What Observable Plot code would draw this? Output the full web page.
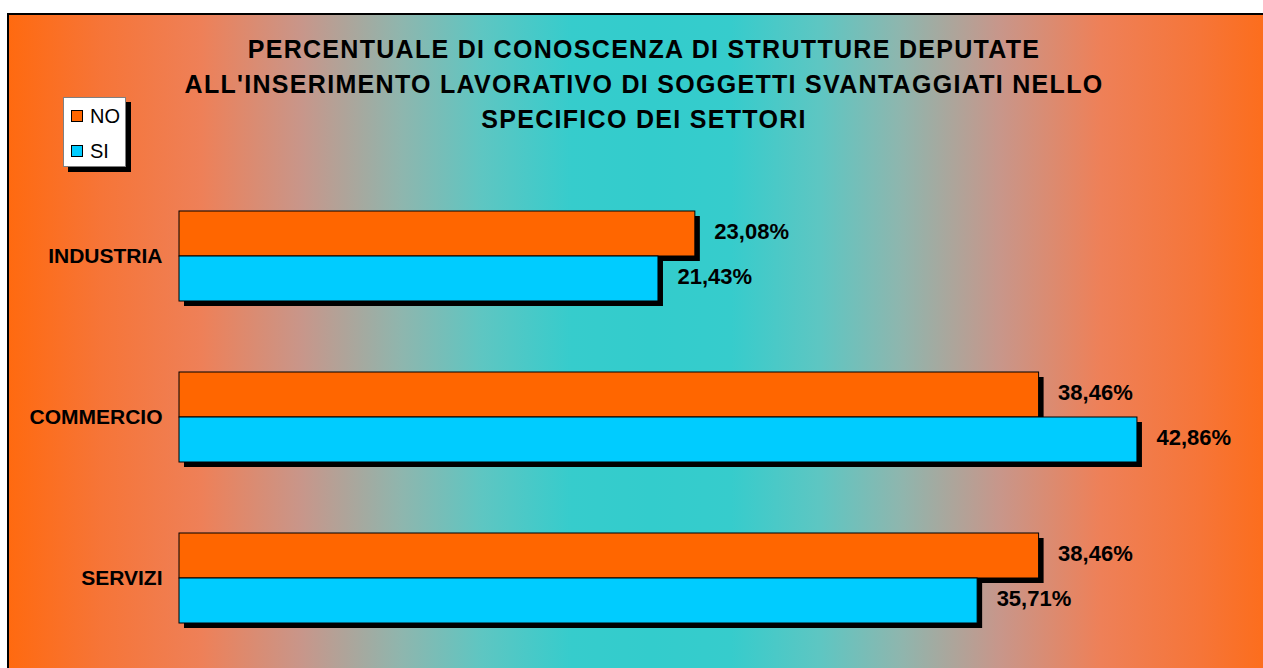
<!DOCTYPE html>
<html>
<head>
<meta charset="utf-8">
<script src="https://cdn.jsdelivr.net/npm/d3@7"></script>
<script src="https://cdn.jsdelivr.net/npm/@observablehq/plot@0.6"></script>
<style>
  html, body { margin: 0; padding: 0; background: #fff; overflow: hidden; width: 1263px; height: 668px; }
  body { position: relative; font-family: "Liberation Sans", Arial, sans-serif; }
  #frame {
    position: absolute; left: 7px; top: 13px; width: 1286px; height: 700px;
    border-top: 2px solid #000; border-left: 2px solid #000; box-sizing: border-box;
    background: linear-gradient(to right,
      #FF6A10 0%, #F67538 7.2%, #EE8058 15%, #C8968A 22.8%, #8EB6AE 30.6%, #5EC6C2 36.8%, #36CCCC 43.8%,
      #33CCCC 50%,
      #36CCCC 56.2%, #5EC6C2 63.2%, #8EB6AE 69.4%, #C8968A 77.2%, #EE8058 85%, #F67538 92.8%, #FF6A10 100%);
  }
  #title {
    position: absolute; left: 0; top: 32px; width: 1288px; text-align: center;
    font-size: 25px; font-weight: bold; line-height: 35px; letter-spacing: 1.3px; color: #000; margin: 0;
  }
  #legend {
    position: absolute; left: 63px; top: 97px; width: 63px; height: 70px; box-sizing: border-box;
    background: #fff; border: 1px solid #808080; box-shadow: 5px 5px 0 #000;
    font-size: 20px; color: #000;
  }
  .item { position: absolute; left: 7px; height: 24px; line-height: 24px; }
  .sw { position: absolute; left: 0; top: 6px; width: 12px; height: 12px; box-sizing: border-box; border: 1px solid #000; }
  .lab { position: absolute; left: 19px; top: 0; }
  #chart { position: absolute; left: 0; top: 0; }
</style>
</head>
<body>
<div id="frame"></div>
<div id="title"></div>
<div id="legend"></div>
<div id="chart"></div>
<script>
const titleLines = [
  "PERCENTUALE DI CONOSCENZA DI STRUTTURE DEPUTATE",
  "ALL'INSERIMENTO LAVORATIVO DI SOGGETTI SVANTAGGIATI NELLO",
  "SPECIFICO DEI SETTORI"
];
const categories = ["INDUSTRIA", "COMMERCIO", "SERVIZI"];
const series = ["NO", "SI"];
const noValues = [23.08, 38.46, 38.46];
const siValues = [21.43, 42.86, 35.71];
const seriesColors = ["#FF6600", "#00CCFF"];

// title
const titleEl = document.getElementById("title");
titleLines.forEach((t, i) => {
  if (i) titleEl.appendChild(document.createElement("br"));
  titleEl.appendChild(document.createTextNode(t));
});

// legend
const legendEl = document.getElementById("legend");
series.forEach((s, i) => {
  const it = document.createElement("div");
  it.className = "item";
  it.style.top = (6 + i * 35) + "px";
  const sw = document.createElement("div");
  sw.className = "sw";
  sw.style.background = seriesColors[i];
  const lb = document.createElement("div");
  lb.className = "lab";
  lb.textContent = s;
  it.appendChild(sw); it.appendChild(lb);
  legendEl.appendChild(it);
});

// data table
const data = [];
categories.forEach((c, i) => {
  data.push({category: c, series: series[0], value: noValues[i]});
  data.push({category: c, series: series[1], value: siValues[i]});
});
const fmt = v => v.toFixed(2).replace(".", ",") + "%";

const chart = Plot.plot({
  width: 1263,
  height: 668,
  marginLeft: 179,
  marginRight: 0,
  marginTop: 210,
  marginBottom: 45,
  style: {background: "transparent", fontFamily: "'Liberation Sans', Arial, sans-serif", overflow: "visible", color: "#000"},
  x: {domain: [0, 48.5], axis: null},
  y: {domain: series, padding: 0, axis: null},
  fy: {domain: categories, paddingInner: 0.4348, paddingOuter: 0, label: null},
  color: {domain: series, range: seriesColors},
  marks: [
    Plot.axisFy({anchor: "left", tickSize: 0, tickPadding: 17, fontSize: 21, fontWeight: "bold", label: null, fill: "#000"}),
    Plot.barX(data, {x: "value", y: "series", fy: "category", fill: "#000", dx: 5, dy: 5}),
    Plot.barX(data, {x: "value", y: "series", fy: "category", fill: "series", stroke: "#000", strokeWidth: 1}),
    Plot.text(data, {x: "value", y: "series", fy: "category", text: d => fmt(d.value), textAnchor: "start", dx: 19, dy: -2, fontSize: 22, fontWeight: "bold", fill: "#000"})
  ]
});
document.getElementById("chart").appendChild(chart);
</script>
</body>
</html>
